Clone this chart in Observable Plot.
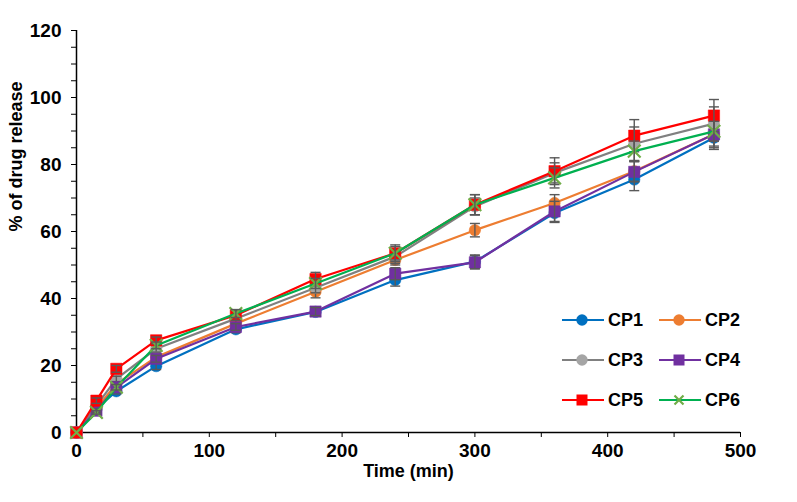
<!DOCTYPE html>
<html><head><meta charset="utf-8">
<script src="https://cdn.jsdelivr.net/npm/d3@7"></script>
<script src="https://cdn.jsdelivr.net/npm/@observablehq/plot@0.6"></script>
<style>
body{margin:0;background:#fff;font-family:"Liberation Sans",Arial,sans-serif;}
#wrap{position:relative;width:797px;height:502px;}
#legend{position:absolute;left:562px;top:309px;display:grid;grid-template-columns:97px 90px;row-gap:18px;font-weight:bold;font-size:18px;color:#000;}
#legend .item{display:flex;align-items:center;height:22px;}
#legend svg{margin-right:4px;}
</style></head>
<body><div id="wrap"><div id="chart"></div><div id="legend"></div></div>
<script>
// ---- data ----
const times = [0, 15, 30, 60, 120, 180, 240, 300, 360, 420, 480];
const seriesNames = ["CP1", "CP2", "CP3", "CP4", "CP5", "CP6"];
const cp1 = [0, 7.0, 12.3, 19.8, 30.8, 36.0, 45.5, 51.0, 65.5, 75.5, 88.0];
const cp2 = [0, 7.2, 14.5, 22.5, 32.5, 42.0, 51.5, 60.4, 68.5, 78.0, 89.0];
const cp3 = [0, 8.0, 16.0, 25.0, 34.0, 43.2, 52.5, 67.5, 77.5, 86.2, 92.2];
const cp4 = [0, 6.5, 13.5, 22.0, 31.5, 36.1, 47.4, 50.8, 66.0, 77.8, 89.0];
const cp5 = [0, 9.5, 19.0, 27.5, 35.0, 45.8, 53.5, 68.0, 78.0, 88.6, 94.6];
const cp6 = [0, 6.0, 13.5, 26.0, 35.5, 44.5, 53.5, 68.0, 76.0, 84.0, 89.9];
const err1 = [0, 0.5, 0.8, 1.0, 1.0, 1.2, 1.8, 2.0, 2.8, 3.3, 3.5];
const err2 = [0, 0.5, 0.8, 1.0, 1.2, 1.8, 1.5, 2.0, 2.5, 3.0, 3.5];
const err3 = [0, 0.5, 0.8, 1.0, 1.5, 1.5, 2.0, 2.5, 3.0, 5.0, 5.0];
const err4 = [0, 0.5, 0.8, 1.0, 1.0, 1.2, 1.8, 2.0, 3.0, 3.0, 4.0];
const err5 = [0, 0.8, 1.0, 1.0, 1.5, 2.0, 2.5, 3.0, 4.0, 4.8, 4.8];
const err6 = [0, 0.5, 0.8, 1.0, 1.2, 1.5, 2.0, 3.0, 3.0, 3.0, 3.0];
const xTicks = [0, 100, 200, 300, 400, 500];
const xMinorTicks = [50, 150, 250, 350, 450];
const yTicks = [0, 20, 40, 60, 80, 100, 120];
const yMinorTicks = d3.range(0, 121, 5);

// ---- styles ----
const lineColors = ["#0070C0", "#ED7D31", "#808080", "#7030A0", "#FF0000", "#00B050"];
const markerColors = ["#0070C0", "#ED7D31", "#A5A5A5", "#7030A0", "#FF0000", "#70AD47"];
const markerSymbols = ["circle", "circle", "circle", "square", "square", "times"];

const values = [cp1, cp2, cp3, cp4, cp5, cp6];
const errs = [err1, err2, err3, err4, err5, err6];
const table = seriesNames.map((name, si) => times.map((t, i) => ({
  series: name, time: t, value: values[si][i], lo: values[si][i] - errs[si][i], hi: values[si][i] + errs[si][i]
})));

const capSymbol = {draw(ctx) { ctx.moveTo(-5, 0); ctx.lineTo(5, 0); }};

const marks = [];
table.forEach((rows, si) => {
  const withErr = rows.filter(d => d.hi > d.lo);
  marks.push(Plot.line(rows, {x: "time", y: "value", stroke: lineColors[si], strokeWidth: 2.2}));
  const sym = markerSymbols[si];
  if (sym === "times") {
    marks.push(Plot.dot(rows, {x: "time", y: "value", symbol: "times", r: 5.8, stroke: markerColors[si], strokeWidth: 2.2, fill: "none"}));
  } else {
    marks.push(Plot.dot(rows, {x: "time", y: "value", symbol: sym, r: sym === "square" ? 6.4 : 5.7, fill: markerColors[si], stroke: markerColors[si], strokeWidth: 0.5}));
  }
  marks.push(Plot.ruleX(withErr, {x: "time", y1: "lo", y2: "hi", stroke: "#595959", strokeWidth: 1.4}));
  marks.push(Plot.dot(withErr, {x: "time", y: "lo", symbol: capSymbol, stroke: "#595959", strokeWidth: 1.4, fill: "none"}));
  marks.push(Plot.dot(withErr, {x: "time", y: "hi", symbol: capSymbol, stroke: "#595959", strokeWidth: 1.4, fill: "none"}));
});

const chart = Plot.plot({
  width: 797,
  height: 502,
  marginLeft: 76,
  marginRight: 57,
  marginTop: 30,
  marginBottom: 70,
  style: {fontFamily: "'Liberation Sans', Arial, sans-serif", fontSize: "19px", fontWeight: "bold", color: "#000", background: "#fff"},
  x: {domain: [0, 500]},
  y: {domain: [0, 120]},
  marks: [
    Plot.axisX({ticks: xTicks, tickSize: 5, tickPadding: 6, label: null, tickFormat: d => d, stroke: "#000", fontSize: 19}),
    Plot.axisX({ticks: xMinorTicks, tickSize: 5, label: null, tickFormat: () => "", stroke: "#000"}),
    Plot.axisY({ticks: yTicks, tickSize: 5, tickPadding: 10, label: null, tickFormat: d => d, stroke: "#000", fontSize: 19}),
    Plot.axisY({ticks: yMinorTicks, tickSize: 5, label: null, tickFormat: () => "", stroke: "#000"}),
    Plot.ruleY([0], {stroke: "#000", strokeWidth: 1.5}),
    Plot.ruleX([0], {stroke: "#000", strokeWidth: 1.5}),
    ...marks,
    Plot.text(["Time (min)"], {frameAnchor: "bottom", dy: 44, fontSize: 18, fontWeight: "bold"}),
    Plot.text(["% of drug release"], {frameAnchor: "left", dx: -60, rotate: -90, fontSize: 18, fontWeight: "bold"})
  ]
});
document.getElementById("chart").appendChild(chart);

// ---- legend ----
const legend = document.getElementById("legend");
seriesNames.forEach((name, si) => {
  const item = document.createElement("div");
  item.className = "item";
  const c = lineColors[si], m = markerColors[si], s = markerSymbols[si];
  let marker;
  if (s === "circle") marker = `<circle cx="20" cy="11" r="5.7" fill="${m}"/>`;
  else if (s === "square") marker = `<rect x="14.5" y="5.5" width="11" height="11" fill="${m}"/>`;
  else marker = `<path d="M15.5 6.5L24.5 15.5M24.5 6.5L15.5 15.5" stroke="${m}" stroke-width="2.2"/>`;
  item.innerHTML = `<svg width="42" height="22"><line x1="0" y1="11" x2="42" y2="11" stroke="${c}" stroke-width="2.2"/>${marker}</svg><span>${name}</span>`;
  legend.appendChild(item);
});
</script>
</body></html>
